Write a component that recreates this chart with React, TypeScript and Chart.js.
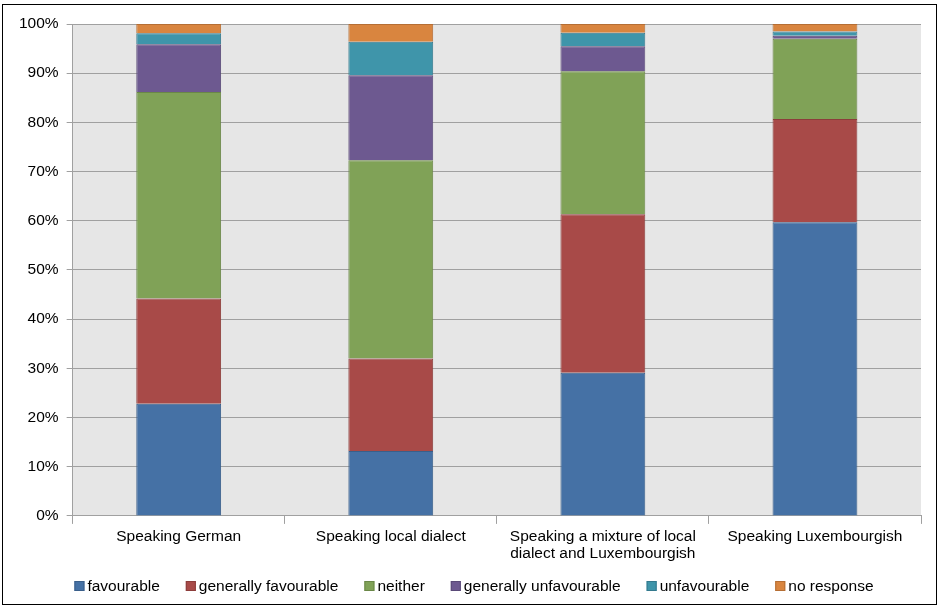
import React, { useEffect, useRef } from "react";
import { Chart, registerables } from "chart.js";

Chart.register(...registerables);

const categories: (string | string[])[] = [
  "Speaking German",
  "Speaking local dialect",
  ["Speaking a mixture of local", "dialect and Luxembourgish"],
  "Speaking Luxembourgish",
];

const favourable = [22.8, 13.2, 29.1, 59.7];
const generallyFavourable = [21.4, 18.8, 32.2, 21.0];
const neither = [42.0, 40.3, 29.1, 16.3];
const generallyUnfavourable = [9.7, 17.3, 5.1, 0.6];
const unfavourable = [2.2, 6.8, 2.7, 0.9];
const noResponse = [1.9, 3.6, 1.8, 1.5];

const seriesNames = [
  "favourable",
  "generally favourable",
  "neither",
  "generally unfavourable",
  "unfavourable",
  "no response",
];

const fills = ["#4571A5", "#A84A48", "#80A257", "#6D5990", "#3F95AA", "#D9853F"];
const borders = ["#3A5F8A", "#8C3D3B", "#6A8748", "#5A4A78", "#34798D", "#B56E34"];

const FONT = "Liberation Sans, Arial, sans-serif";

const plotBg = {
  id: "plotBg",
  beforeDraw(chart: any) {
    const { ctx, chartArea } = chart;
    ctx.save();
    ctx.fillStyle = "#E6E6E6";
    ctx.fillRect(chartArea.left, chartArea.top, chartArea.right - chartArea.left, chartArea.bottom - chartArea.top);
    ctx.restore();
  },
};

// Bottom legend drawn with Excel-like spacing (small box-text gap, wider item gap)
const bottomLegend = {
  id: "bottomLegend",
  afterDraw(chart: any) {
    const { ctx } = chart;
    const box = 10;
    const gapBoxText = 3;
    const gapItems = 26;
    ctx.save();
    ctx.font = `15.5px ${FONT}`;
    ctx.textBaseline = "middle";
    const items = chart.data.datasets.map((d: any) => ({
      label: d.label,
      fill: d.backgroundColor,
      stroke: d.borderColor,
      w: ctx.measureText(d.label).width,
    }));
    const total =
      items.reduce((s: number, it: any) => s + box + gapBoxText + it.w, 0) + gapItems * (items.length - 1);
    const cx = 471;
    const y = 581;
    let x = cx - total / 2;
    items.forEach((it: any) => {
      ctx.fillStyle = it.fill;
      ctx.fillRect(x, y - box / 2, box, box);
      ctx.strokeStyle = it.stroke;
      ctx.lineWidth = 1;
      ctx.strokeRect(x + 0.5, y - box / 2 + 0.5, box - 1, box - 1);
      x += box + gapBoxText;
      ctx.fillStyle = "#000";
      ctx.fillText(it.label, x, y + 1);
      x += it.w + gapItems;
    });
    ctx.restore();
  },
};

export default function App() {
  const ref = useRef<HTMLCanvasElement | null>(null);
  useEffect(() => {
    document.body.style.margin = "0";
    const values = [favourable, generallyFavourable, neither, generallyUnfavourable, unfavourable, noResponse];
    const chart = new Chart(ref.current!, {
      type: "bar",
      data: {
        labels: categories as any,
        datasets: values.map((v, i) => ({
          label: seriesNames[i],
          data: v,
          backgroundColor: fills[i],
          borderColor: borders[i],
          borderWidth: 1,
          barPercentage: 0.4,
          categoryPercentage: 1,
        })),
      },
      options: {
        animation: false,
        responsive: false,
        maintainAspectRatio: false,
        layout: { padding: { left: 8, right: 15, top: 19, bottom: 38 } },
        plugins: {
          legend: { display: false },
          tooltip: { enabled: false },
        },
        scales: {
          x: {
            stacked: true,
            grid: {
              offset: true,
              drawOnChartArea: false,
              color: "#A0A0A0",
              tickLength: 8,
            },
            border: { color: "#A0A0A0" },
            ticks: {
              color: "#000",
              maxRotation: 0,
              autoSkip: false,
              padding: 4,
              font: { family: FONT, size: 15.5, lineHeight: 1.1 },
            },
          },
          y: {
            stacked: true,
            min: 0,
            max: 100,
            grid: { color: "#A0A0A0", tickLength: 6 },
            border: { color: "#A0A0A0" },
            ticks: {
              stepSize: 10,
              padding: 8,
              color: "#000",
              font: { family: FONT, size: 15.5 },
              callback: (v: any) => v + "%",
            },
          },
        },
      },
      plugins: [plotBg, bottomLegend],
    });
    return () => chart.destroy();
  }, []);
  return (
    <div style={{ position: "absolute", left: 2, top: 4, width: 933, height: 599, border: "1px solid #000", background: "#fff" }}>
      <canvas ref={ref} width={933} height={599} />
    </div>
  );
}
